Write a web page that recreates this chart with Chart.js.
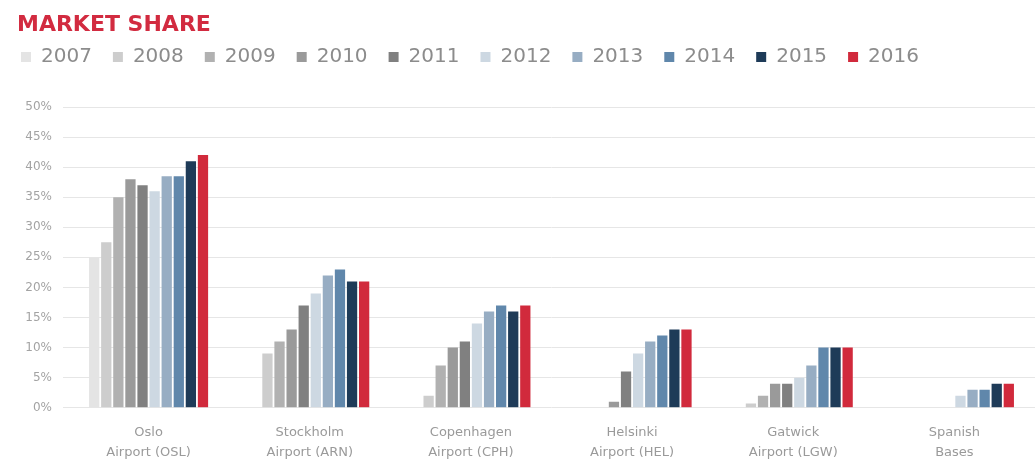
<!DOCTYPE html>
<html>
<head>
<meta charset="utf-8">
<script src="https://cdn.jsdelivr.net/npm/chart.js@4.4.1/dist/chart.umd.min.js"></script>
<style>
  html, body { margin: 0; padding: 0; background: #fff; }
  #wrap { position: relative; width: 1035px; height: 475px; }
  #title {
    position: absolute; left: 17px; top: 13px;
    font: bold 22px/22px "DejaVu Sans", sans-serif;
    color: #d22b40; margin: 0;
  }
  canvas { position: absolute; left: 0; top: 0; }
</style>
</head>
<body>
<div id="wrap">
  <canvas id="chart" width="1035" height="475"></canvas>
  <h1 id="title">MARKET SHARE</h1>
</div>
<script>
// categories (x axis), two lines each
const airports = [
  ['Oslo', 'Airport (OSL)'],
  ['Stockholm', 'Airport (ARN)'],
  ['Copenhagen', 'Airport (CPH)'],
  ['Helsinki', 'Airport (HEL)'],
  ['Gatwick', 'Airport (LGW)'],
  ['Spanish', 'Bases'],
];

const years = ['2007', '2008', '2009', '2010', '2011', '2012', '2013', '2014', '2015', '2016'];

// market share in %, one array per year, same order as airports
const share2007 = [25, null, null, null, null, null];
const share2008 = [27.5, 9, 2, null, 0.7, null];
const share2009 = [35, 11, 7, null, 2, null];
const share2010 = [38, 13, 10, 1, 4, null];
const share2011 = [37, 17, 11, 6, 4, null];
const share2012 = [36, 19, 14, 9, 5, 2];
const share2013 = [38.5, 22, 16, 11, 7, 3];
const share2014 = [38.5, 23, 17, 12, 10, 3];
const share2015 = [41, 21, 16, 13, 10, 4];
const share2016 = [42, 21, 17, 13, 10, 4];

const yearColors = ['#e4e4e4', '#cdcdcd', '#b1b1b1', '#9a9a9a', '#808080',
                    '#cdd8e2', '#97adc3', '#6087ab', '#1e3b58', '#d12a3c'];

const yTicks = [0, 5, 10, 15, 20, 25, 30, 35, 40, 45, 50];

const allShares = [share2007, share2008, share2009, share2010, share2011,
                   share2012, share2013, share2014, share2015, share2016];

// push the plot down below the legend row
const legendSpacer = {
  id: 'legendSpacer',
  beforeInit(chart) {
    const fit = chart.legend.fit;
    chart.legend.fit = function () {
      fit.call(this);
      this.height += 30;
    };
  }
};

new Chart(document.getElementById('chart').getContext('2d'), {
  type: 'bar',
  data: {
    labels: airports,
    datasets: years.map((y, i) => ({
      label: y,
      data: allShares[i],
      backgroundColor: yearColors[i],
      borderWidth: 0,
      categoryPercentage: 0.75,
      barPercentage: 0.85,
    })),
  },
  plugins: [legendSpacer],
  options: {
    responsive: false,
    animation: false,
    devicePixelRatio: 1,
    layout: { padding: { top: 26, left: 0, right: 0, bottom: -3 } },
    plugins: {
      title: { display: false },
      tooltip: { enabled: false },
      legend: {
        position: 'top',
        align: 'start',
        labels: {
          boxWidth: 10,
          boxHeight: 10,
          padding: 21,
          color: '#8c8c8c',
          font: { family: 'DejaVu Sans', size: 20 },
        },
      },
    },
    scales: {
      x: {
        grid: { display: false, drawTicks: false },
        border: { display: false },
        ticks: {
          padding: 15,
          color: '#9a9a9a',
          font: { family: 'DejaVu Sans', size: 13, lineHeight: 1.55 },
          maxRotation: 0,
          autoSkip: false,
        },
      },
      y: {
        min: 0,
        max: 50,
        afterFit: (s) => { s.width = 68; },
        afterBuildTicks: (s) => { s.ticks = yTicks.map(v => ({ value: v })); },
        grid: { color: '#e6e6e6', drawTicks: true, tickLength: 5 },
        border: { display: false },
        ticks: {
          padding: 11,
          color: '#a3a3a3',
          font: { family: 'DejaVu Sans', size: 12 },
          callback: (v) => v + '%',
        },
      },
    },
  },
});
</script>
</body>
</html>
